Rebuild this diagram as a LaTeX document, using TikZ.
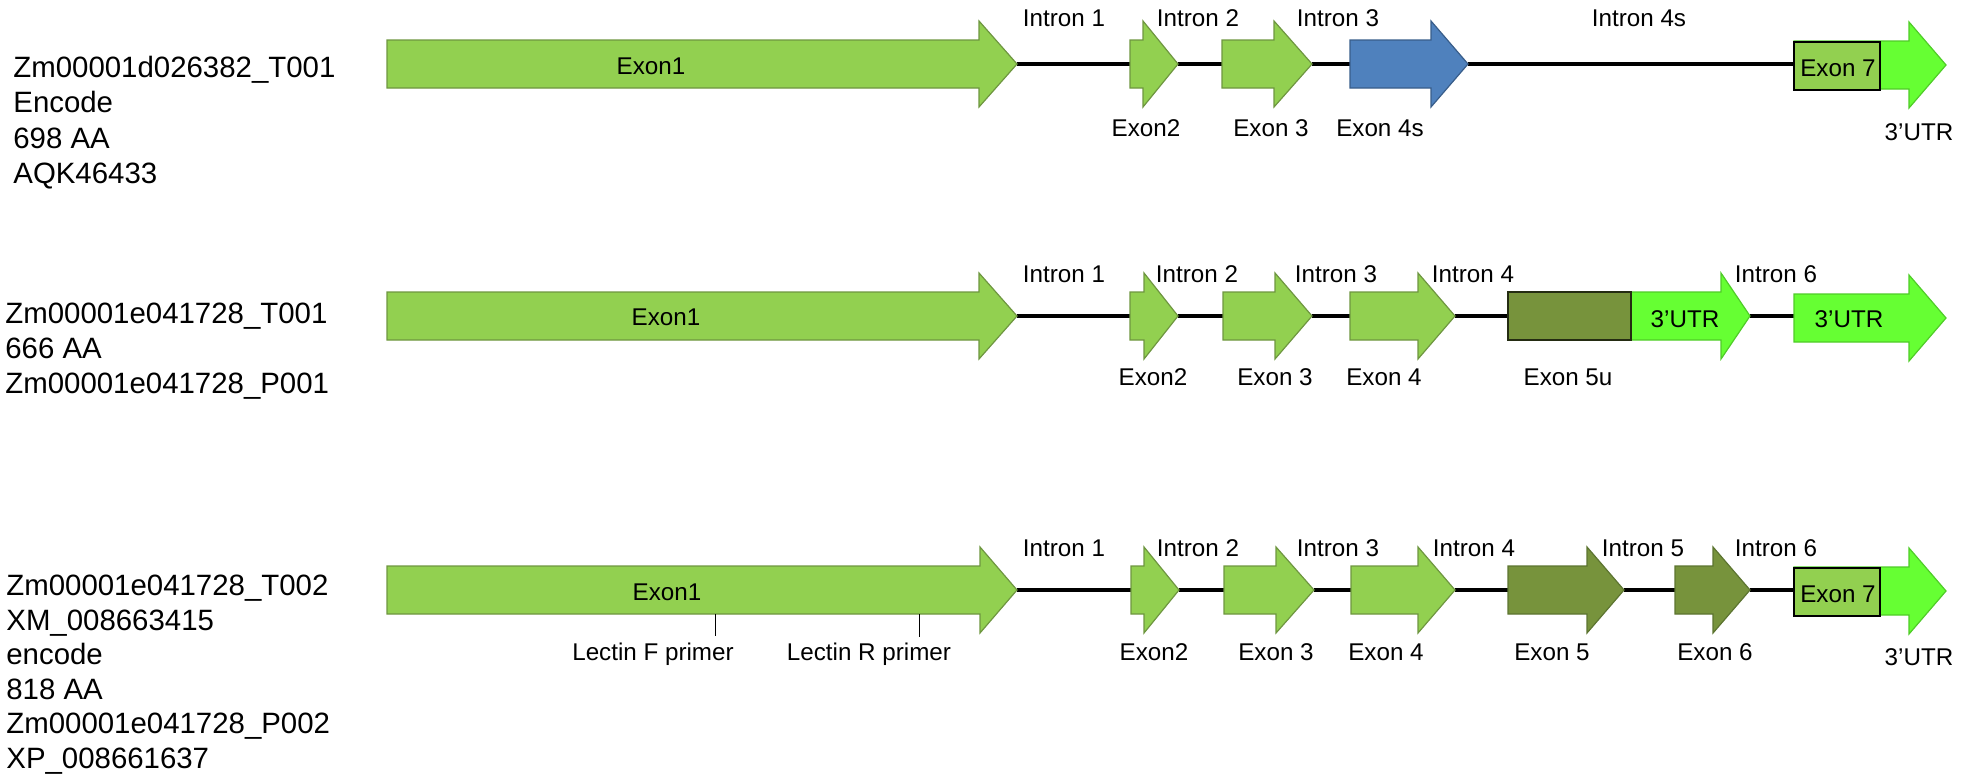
\documentclass[tikz,border=0pt]{standalone}
\usepackage{fontspec}
\setmainfont{Liberation Sans}
\pgfdeclarelayer{bg}
\pgfsetlayers{bg,main}
\definecolor{exgreen}{HTML}{92D050}
\definecolor{exgreenD}{HTML}{6E9640}
\definecolor{exblue}{HTML}{4F81BD}
\definecolor{exblueD}{HTML}{385D8A}
\definecolor{exolive}{HTML}{77933C}
\definecolor{exoliveD}{HTML}{5C7430}
\definecolor{utrgreen}{HTML}{66FF33}
\definecolor{utrgreenD}{HTML}{4FCC28}
\newcommand\garrow[6]{% #1 style, #2 name, #3 x left, #4 x head base, #5 x tip, #6 y centre
  \path[#1] (#3,#6-24) -- (#4,#6-24) -- (#4,#6-43) -- (#5,#6) -- (#4,#6+43) -- (#4,#6+24) -- (#3,#6+24) -- cycle;
  \coordinate (#2-w) at (#3,#6);
  \coordinate (#2-e) at (#5,#6);}
\tikzset{
  exon/.style={fill=exgreen, draw=exgreenD, line width=0.6pt},
  exonblue/.style={fill=exblue, draw=exblueD, line width=0.6pt},
  exonolive/.style={fill=exolive, draw=exoliveD, line width=0.6pt},
  utr/.style={fill=utrgreen, draw=utrgreenD, line width=0.6pt},
  boxgreen/.style={fill=exgreen, draw=black, line width=0.8pt},
  boxolive/.style={fill=exolive, draw=black!70!exolive, line width=0.8pt},
  intron/.style={draw=black, line width=1.6pt},
  primer/.style={draw=black, line width=0.5pt},
  lab/.style={font=\fontsize{12.1}{14.5}\selectfont, anchor=base, inner sep=0pt},
  side/.style={font=\fontsize{14.7}{17.6}\selectfont, anchor=base west, inner sep=0pt},
}
\begin{document}
\begin{tikzpicture}[x=0.5pt, y=-0.5pt]
\useasboundingbox (0,0) rectangle (1970,776);

% ---------------- Row 1 ----------------
\node[side] (r1t1) at (13,77.5) {Zm00001d026382\_T001};
\node[side] (r1t2) at (13,112.5) {Encode};
\node[side] (r1t3) at (13,148) {698 AA};
\node[side] (r1t4) at (13,183) {AQK46433};

\garrow{exon}{r1e1}{387}{979}{1017}{64}
\garrow{exon}{r1e2}{1130}{1143}{1178}{64}
\garrow{exon}{r1e3}{1222}{1274}{1312}{64}
\garrow{exonblue}{r1e4}{1350}{1431}{1468}{64}
\garrow{utr}{r1u}{1794}{1909}{1946}{65}
\draw[boxgreen] (1794,42) rectangle (1880,90);
\coordinate (r1b-w) at (1794,64);

\begin{pgfonlayer}{bg}
\draw[intron] (r1e1-e) -- (r1e2-w);
\draw[intron] (r1e2-e) -- (r1e3-w);
\draw[intron] (r1e3-e) -- (r1e4-w);
\draw[intron] (r1e4-e) -- (r1b-w);
\end{pgfonlayer}

\node[lab] (r1l1) at (651,74) {Exon1};
\node[lab] (r1i1) at (1064,26) {Intron 1};
\node[lab] (r1i2) at (1198,26) {Intron 2};
\node[lab] (r1i3) at (1338,26) {Intron 3};
\node[lab] (r1i4) at (1639,26) {Intron 4s};
\node[lab] (r1x2) at (1146,136) {Exon2};
\node[lab] (r1x3) at (1271,136) {Exon 3};
\node[lab] (r1x4) at (1380,136) {Exon 4s};
\node[lab] (r1x7) at (1838,76) {Exon 7};
\node[lab] (r1u3) at (1919,140) {3’UTR};

% ---------------- Row 2 ----------------
\node[side] (r2t1) at (5,323) {Zm00001e041728\_T001};
\node[side] (r2t2) at (5,358) {666 AA};
\node[side] (r2t3) at (5,393) {Zm00001e041728\_P001};

\garrow{exon}{r2e1}{387}{979}{1017}{316}
\garrow{exon}{r2e2}{1130}{1144}{1178}{316}
\garrow{exon}{r2e3}{1223}{1275}{1312}{316}
\garrow{exon}{r2e4}{1350}{1418}{1455}{316}
\garrow{utr}{r2u1}{1600}{1721}{1750}{316}
\draw[boxolive] (1508,292) rectangle (1631,340);
\coordinate (r2b-w) at (1508,316);
\garrow{utr}{r2u2}{1794}{1909}{1946}{318}

\begin{pgfonlayer}{bg}
\draw[intron] (r2e1-e) -- (r2e2-w);
\draw[intron] (r2e2-e) -- (r2e3-w);
\draw[intron] (r2e3-e) -- (r2e4-w);
\draw[intron] (r2e4-e) -- (r2b-w);
\draw[intron] (r2u1-e) -- (r2u2-w |- r2u1-e);
\end{pgfonlayer}

\node[lab] (r2l1) at (666,325) {Exon1};
\node[lab] (r2i1) at (1064,282) {Intron 1};
\node[lab] (r2i2) at (1197,282) {Intron 2};
\node[lab] (r2i3) at (1336,282) {Intron 3};
\node[lab] (r2i4) at (1473,282) {Intron 4};
\node[lab] (r2i6) at (1776,282) {Intron 6};
\node[lab] (r2x2) at (1153,385) {Exon2};
\node[lab] (r2x3) at (1275,385) {Exon 3};
\node[lab] (r2x4) at (1384,385) {Exon 4};
\node[lab] (r2x5) at (1568,385) {Exon 5u};
\node[lab] (r2ua) at (1685,327) {3’UTR};
\node[lab] (r2ub) at (1849,327) {3’UTR};

% ---------------- Row 3 ----------------
\node[side] (r3t1) at (6,595) {Zm00001e041728\_T002};
\node[side] (r3t2) at (6,630) {XM\_008663415};
\node[side] (r3t3) at (6,664) {encode};
\node[side] (r3t4) at (6,699) {818 AA};
\node[side] (r3t5) at (6,733) {Zm00001e041728\_P002};
\node[side] (r3t6) at (6,768) {XP\_008661637};

\garrow{exon}{r3e1}{387}{980}{1017}{590}
\garrow{exon}{r3e2}{1131}{1144}{1179}{590}
\garrow{exon}{r3e3}{1224}{1276}{1314}{590}
\garrow{exon}{r3e4}{1351}{1418}{1455}{590}
\garrow{exonolive}{r3e5}{1508}{1587}{1624}{590}
\garrow{exonolive}{r3e6}{1675}{1713}{1750}{590}
\garrow{utr}{r3u}{1794}{1909}{1946}{591}
\draw[boxgreen] (1794,568) rectangle (1880,616);
\coordinate (r3b-w) at (1794,590);

\begin{pgfonlayer}{bg}
\draw[intron] (r3e1-e) -- (r3e2-w);
\draw[intron] (r3e2-e) -- (r3e3-w);
\draw[intron] (r3e3-e) -- (r3e4-w);
\draw[intron] (r3e4-e) -- (r3e5-w);
\draw[intron] (r3e5-e) -- (r3e6-w);
\draw[intron] (r3e6-e) -- (r3b-w);
\end{pgfonlayer}

\coordinate (pF-top) at (715,614);
\coordinate (pF-bot) at (715,636);
\coordinate (pR-top) at (919,614);
\coordinate (pR-bot) at (919,637);
\draw[primer] (pF-top) -- (pF-bot);
\draw[primer] (pR-top) -- (pR-bot);
\node[lab] (pFl) at (653,660) {Lectin F primer};
\node[lab] (pRl) at (869,660) {Lectin R primer};

\node[lab] (r3l1) at (667,600) {Exon1};
\node[lab] (r3i1) at (1064,556) {Intron 1};
\node[lab] (r3i2) at (1198,556) {Intron 2};
\node[lab] (r3i3) at (1338,556) {Intron 3};
\node[lab] (r3i4) at (1474,556) {Intron 4};
\node[lab] (r3i5) at (1643,556) {Intron 5};
\node[lab] (r3i6) at (1776,556) {Intron 6};
\node[lab] (r3x2) at (1154,660) {Exon2};
\node[lab] (r3x3) at (1276,660) {Exon 3};
\node[lab] (r3x4) at (1386,660) {Exon 4};
\node[lab] (r3x5) at (1552,660) {Exon 5};
\node[lab] (r3x6) at (1715,660) {Exon 6};
\node[lab] (r3x7) at (1838,602) {Exon 7};
\node[lab] (r3u3) at (1919,665) {3’UTR};
\end{tikzpicture}
\end{document}
